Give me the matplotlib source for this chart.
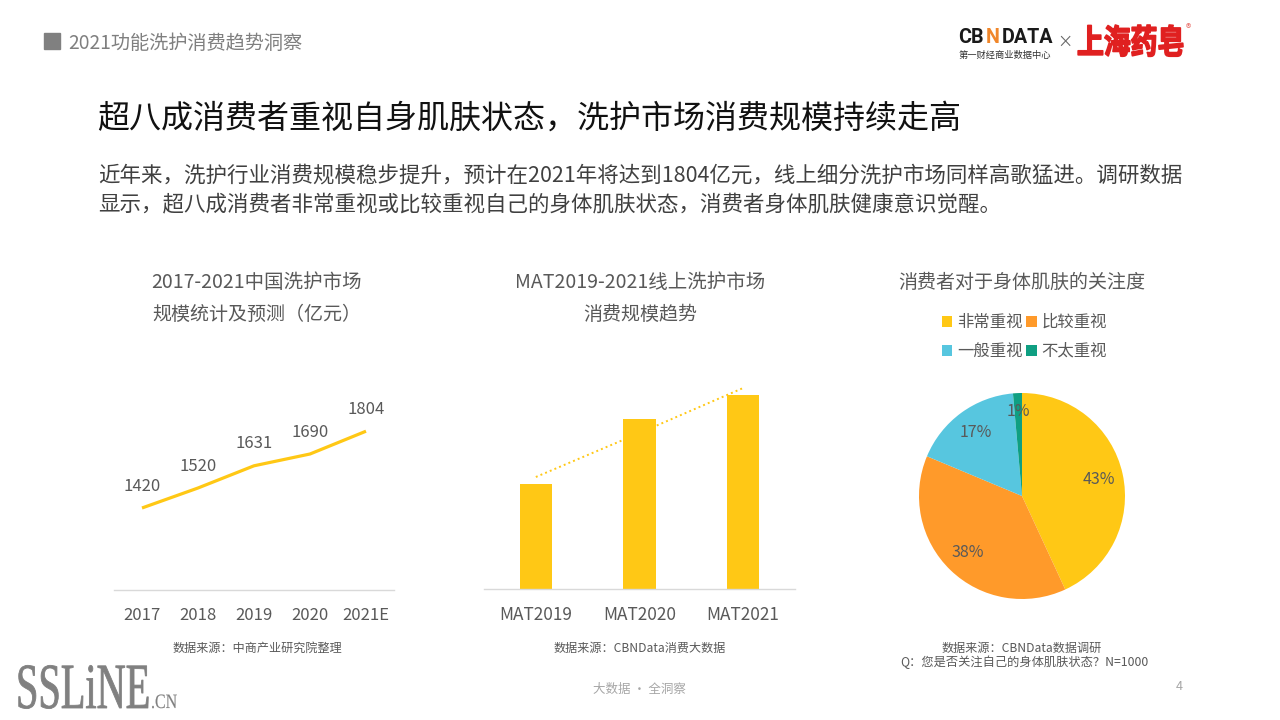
import matplotlib
matplotlib.use("Agg")
import matplotlib.pyplot as plt
import matplotlib.patheffects as pe
from matplotlib.patches import Rectangle
from matplotlib.transforms import Affine2D

plt.rcParams["font.family"] = ["Noto Sans CJK SC", "DejaVu Sans"]

W, H = 1280, 720

GREY = "#595959"
DARK = "#404040"
YELLOW = "#FFC815"
ORANGE = "#FF9A2A"
BLUE = "#57C6DF"
GREEN = "#0F9F82"

years = ["2017", "2018", "2019", "2020", "2021E"]
market_size = [1420, 1520, 1631, 1690, 1804]

mat_labels = ["MAT2019", "MAT2020", "MAT2021"]
mat_values = [105, 170, 194]
mat_trend = [112, 156, 201]

pie_labels = ["非常重视", "比较重视", "一般重视", "不太重视"]
pie_values = [43.1, 38.2, 17.3, 1.4]
pie_colors = [YELLOW, ORANGE, BLUE, GREEN]


class Tall(pe.AbstractPathEffect):
    # stretches a text upward from its baseline and thickens it, for the logo lettering
    def __init__(self, sy, color, stroke=0.8):
        super().__init__()
        self.sy = sy
        self.color = color
        self.stroke = stroke

    def draw_path(self, renderer, gc, tpath, affine, rgbFace=None):
        y0 = affine.get_matrix()[1, 2]
        gc0 = renderer.new_gc()
        gc0.copy_properties(gc)
        gc0.set_foreground(self.color)
        gc0.set_linewidth(self.stroke)
        renderer.draw_path(gc0, tpath, affine + Affine2D().translate(0, -y0).scale(1, self.sy).translate(0, y0), rgbFace)
        gc0.restore()


def px_axes(fig, left, top, right, bottom):
    return fig.add_axes([left / W, 1 - bottom / H, (right - left) / W, (bottom - top) / H])


def clean_axis(ax, labelsize=12):
    for side in ["top", "left", "right"]:
        ax.spines[side].set_visible(False)
    ax.spines["bottom"].set_color("#D9D9D9")
    ax.spines["bottom"].set_linewidth(1)
    ax.set_yticks([])
    ax.tick_params(axis="x", length=0, pad=12, labelsize=labelsize, labelcolor=GREY)
    ax.patch.set_alpha(0)


fig = plt.figure(figsize=(12.8, 7.2), dpi=100, facecolor="white")

# page overlay, in pixel coordinates
page = fig.add_axes([0, 0, 1, 1])
page.set_xlim(0, W)
page.set_ylim(H, 0)
page.axis("off")

page.add_patch(Rectangle((44, 33), 16, 16, color="#808080"))
page.text(68, 43, "2021功能洗护消费趋势洞察", fontsize=13.8, color="#7F7F7F", va="center")

page.text(97, 119, "超八成消费者重视自身肌肤状态，洗护市场消费规模持续走高", fontsize=23.05, color="#111111", va="center")
page.text(98, 176, "近年来，洗护行业消费规模稳步提升，预计在2021年将达到1804亿元，线上细分洗护市场同样高歌猛进。调研数据",
          fontsize=15.47, color=DARK, va="center")
page.text(98, 204, "显示，超八成消费者非常重视或比较重视自己的身体肌肤状态，消费者身体肌肤健康意识觉醒。",
          fontsize=15.47, color=DARK, va="center")

page.text(257, 283, "2017-2021中国洗护市场", fontsize=14, color=GREY, ha="center", va="center")
page.text(257, 314, "规模统计及预测（亿元）", fontsize=13.7, color=GREY, ha="center", va="center")
page.text(640, 283, "MAT2019-2021线上洗护市场", fontsize=14, color=GREY, ha="center", va="center")
page.text(640, 314, "消费规模趋势", fontsize=13.7, color=GREY, ha="center", va="center")
page.text(1022, 282, "消费者对于身体肌肤的关注度", fontsize=13.7, color=GREY, ha="center", va="center")

page.text(257, 648, "数据来源：中商产业研究院整理", fontsize=8.7, color=GREY, ha="center", va="center")
page.text(640, 648, "数据来源：CBNData消费大数据", fontsize=8.7, color=GREY, ha="center", va="center")
page.text(1022, 648, "数据来源：CBNData数据调研", fontsize=8.7, color=GREY, ha="center", va="center")
page.text(1024, 662, "Q：您是否关注自己的身体肌肤状态？N=1000", fontsize=8.8, color=GREY, ha="center", va="center")

page.text(639, 689, "大数据 · 全洞察", fontsize=9, color="#A6A6A6", ha="center", va="center")
page.text(1179, 687, "4", fontsize=9, color="#A6A6A6", ha="center", va="center")

# logos
logo = ["Roboto", "DejaVu Sans"]
page.text(958, 43, "CB", fontsize=14.2, fontweight="bold", family=logo, color="#1A1A1A", va="baseline")
page.text(986, 43, "N", fontsize=14.2, fontweight="bold", family=logo, color="#F0862A", va="baseline")
page.text(1002, 43, "DATA", fontsize=14.2, fontweight="bold", family=logo, color="#1A1A1A", va="baseline")
page.text(959, 55, "第一财经商业数据中心", fontsize=6.7, color="#333333", va="center")
page.text(1065, 42, "×", fontsize=11, color="#666666", ha="center", va="center")
page.text(1077, 53.5, "上海药皂", fontsize=19.3, fontweight=900, color="#E02020", va="baseline",
          path_effects=[Tall(1.25, "#E02020", 1.2)])
page.text(1188, 29, "®", fontsize=8, color="#E8706A", ha="center", va="center")

page.text(16, 708, "SSLiNE", fontsize=29, family=["Liberation Serif"], color="#808080", va="baseline",
          path_effects=[Tall(1.6, "#808080", 0.6)])
page.text(151, 708, ".CN", fontsize=11.5, family=["Liberation Serif"], color="#808080", va="baseline",
          path_effects=[Tall(1.28, "#808080", 0.1)])

# left chart
ax1 = px_axes(fig, 114, 370, 394, 590)
ax1.plot(range(len(years)), market_size, color=YELLOW, linewidth=2.3, solid_capstyle="butt")
for i, v in enumerate(market_size):
    ax1.annotate(str(v), (i, v), xytext=(0, 15.7), textcoords="offset points", ha="center", va="center",
                 fontsize=12, color=GREY)
ax1.set_xlim(-0.5, 4.5)
ax1.set_ylim(1010, 2110)
ax1.set_xticks(range(len(years)))
ax1.set_xticklabels(years)
clean_axis(ax1)

# middle chart
ax2 = px_axes(fig, 484, 370, 795, 589)
ax2.plot(range(len(mat_labels)), mat_trend, color=YELLOW, linewidth=1.4, linestyle=(0, (1, 1.6)), zorder=1)
ax2.bar(range(len(mat_labels)), mat_values, width=0.31, color=YELLOW, zorder=2)
ax2.set_xlim(-0.5, 2.5)
ax2.set_ylim(0, 219)
ax2.set_xticks(range(len(mat_labels)))
ax2.set_xticklabels(mat_labels)
clean_axis(ax2, labelsize=12.4)

# right chart
ax3 = px_axes(fig, 1022 - 128.75, 496 - 128.75, 1022 + 128.75, 496 + 128.75)
wedges, texts, autotexts = ax3.pie(pie_values, colors=pie_colors, startangle=90, counterclock=False,
                                   autopct="%.0f%%", pctdistance=0.76,
                                   textprops={"fontsize": 11.5, "color": GREY})
autotexts[3].set_y(0.82)
order = [0, 2, 1, 3]
page.legend([wedges[i] for i in order], [pie_labels[i] for i in order], ncol=2, frameon=False,
            loc="center", bbox_to_anchor=(1024.5, 337), bbox_transform=page.transData,
            fontsize=11.8, labelcolor=GREY, handlelength=0.65, handleheight=0.65, handletextpad=0.3,
            columnspacing=0.2, labelspacing=0.72, borderpad=0)

fig.savefig("out.png", dpi=100)
